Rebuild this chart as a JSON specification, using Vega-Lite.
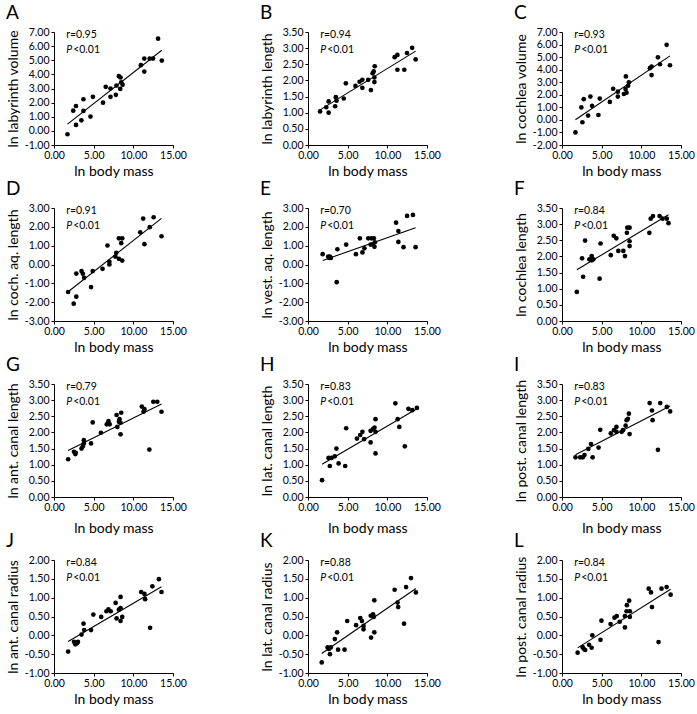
{
"$schema": "https://vega.github.io/schema/vega-lite/v6.json",
"background": "white",
"padding": {"left": 5, "top": 4, "right": 0, "bottom": 3},
"config": {
  "locale": {"number": {"decimal": ".", "thousands": ",", "grouping": [3], "currency": ["$", ""], "minus": "-"}},
  "view": {"stroke": null},
  "font": "Lato",
  "axis": {"domainColor": "black", "tickColor": "black", "tickSize": 3, "labelFont": "Lato", "labelFontSize": 10.5, "labelColor": "black", "titleFont": "Lato", "titleFontSize": 14, "titleFontWeight": "normal", "titleColor": "black", "grid": false, "labelPadding": 2, "labelOverlap": false, "labelFlush": false},
  "axisY": {"minExtent": 33, "maxExtent": 33, "titlePadding": 1},
  "axisX": {"titlePadding": 4},
  "title": {"anchor": "start", "frame": "bounds", "fontSize": 19, "fontWeight": "normal", "font": "Lato", "color": "black", "offset": 4},
  "text": {"font": "Lato", "color": "black"}
},
"datasets": {
"A": [{"x":1.70,"y":-0.24},{"x":2.43,"y":1.43},{"x":2.77,"y":1.76},{"x":2.77,"y":0.42},{"x":3.45,"y":0.75},{"x":3.71,"y":2.24},{"x":3.71,"y":1.41},{"x":4.60,"y":1.01},{"x":4.90,"y":2.41},{"x":6.18,"y":2.00},{"x":6.52,"y":3.12},{"x":7.12,"y":3.00},{"x":7.12,"y":2.41},{"x":7.80,"y":2.55},{"x":7.88,"y":3.21},{"x":8.18,"y":3.87},{"x":8.39,"y":3.78},{"x":8.35,"y":2.97},{"x":8.48,"y":3.44},{"x":8.65,"y":3.26},{"x":10.95,"y":4.65},{"x":11.38,"y":5.12},{"x":11.38,"y":4.20},{"x":12.06,"y":5.12},{"x":12.48,"y":5.12},{"x":13.12,"y":6.53},{"x":13.59,"y":4.98}],
"B": [{"x":1.52,"y":1.04},{"x":2.30,"y":1.17},{"x":2.60,"y":1.00},{"x":2.60,"y":1.35},{"x":3.42,"y":1.20},{"x":3.51,"y":1.48},{"x":3.60,"y":1.37},{"x":4.51,"y":1.44},{"x":4.77,"y":1.91},{"x":5.98,"y":1.83},{"x":6.50,"y":1.96},{"x":6.85,"y":2.02},{"x":6.85,"y":1.77},{"x":7.59,"y":2.02},{"x":7.93,"y":1.70},{"x":8.15,"y":2.22},{"x":8.28,"y":2.28},{"x":8.37,"y":2.09},{"x":8.37,"y":1.95},{"x":8.41,"y":2.44},{"x":10.92,"y":2.72},{"x":11.27,"y":2.79},{"x":11.27,"y":2.33},{"x":12.14,"y":2.33},{"x":12.48,"y":2.85},{"x":13.13,"y":3.01},{"x":13.57,"y":2.65}],
"C": [{"x":1.69,"y":-1.00},{"x":2.44,"y":0.99},{"x":2.57,"y":-0.19},{"x":2.74,"y":1.65},{"x":3.29,"y":0.34},{"x":3.58,"y":1.86},{"x":3.79,"y":1.12},{"x":4.59,"y":0.39},{"x":4.76,"y":1.70},{"x":6.03,"y":1.43},{"x":6.45,"y":2.48},{"x":7.04,"y":1.86},{"x":7.04,"y":2.25},{"x":7.80,"y":2.06},{"x":8.05,"y":3.46},{"x":8.01,"y":2.46},{"x":8.13,"y":2.17},{"x":8.34,"y":2.72},{"x":8.43,"y":2.99},{"x":11.08,"y":4.12},{"x":11.29,"y":4.25},{"x":11.29,"y":3.57},{"x":12.09,"y":4.98},{"x":12.35,"y":4.43},{"x":13.19,"y":5.98},{"x":13.61,"y":4.35}],
"D": [{"x":1.78,"y":-1.46},{"x":2.48,"y":-2.08},{"x":2.81,"y":-0.48},{"x":2.81,"y":-1.71},{"x":3.47,"y":-0.35},{"x":3.64,"y":-0.49},{"x":3.80,"y":-0.71},{"x":4.67,"y":-1.20},{"x":4.88,"y":-0.35},{"x":6.12,"y":-0.23},{"x":6.74,"y":1.01},{"x":6.98,"y":0.14},{"x":6.98,"y":0.00},{"x":7.73,"y":0.42},{"x":7.85,"y":0.62},{"x":8.18,"y":1.39},{"x":8.18,"y":0.30},{"x":8.47,"y":1.13},{"x":8.60,"y":1.39},{"x":8.60,"y":0.21},{"x":10.87,"y":1.71},{"x":11.24,"y":2.44},{"x":11.40,"y":1.08},{"x":12.07,"y":1.98},{"x":12.56,"y":2.51},{"x":13.55,"y":1.50}],
"E": [{"x":1.85,"y":0.55},{"x":2.55,"y":0.42},{"x":2.67,"y":0.35},{"x":2.75,"y":0.42},{"x":2.88,"y":0.35},{"x":3.62,"y":-0.94},{"x":3.70,"y":0.81},{"x":4.81,"y":1.06},{"x":6.04,"y":0.55},{"x":6.54,"y":1.39},{"x":6.86,"y":0.64},{"x":7.11,"y":0.86},{"x":7.60,"y":1.39},{"x":7.89,"y":1.06},{"x":8.01,"y":1.39},{"x":8.18,"y":1.06},{"x":8.30,"y":1.39},{"x":8.38,"y":0.94},{"x":8.43,"y":1.18},{"x":11.10,"y":2.22},{"x":11.39,"y":1.78},{"x":11.39,"y":1.20},{"x":12.04,"y":0.92},{"x":12.49,"y":2.58},{"x":13.23,"y":2.63},{"x":13.56,"y":0.92}],
"F": [{"x":1.87,"y":0.90},{"x":2.53,"y":1.94},{"x":2.66,"y":1.37},{"x":2.91,"y":2.49},{"x":3.45,"y":1.91},{"x":3.74,"y":2.01},{"x":3.74,"y":1.88},{"x":3.95,"y":1.91},{"x":4.74,"y":1.31},{"x":4.86,"y":2.40},{"x":6.15,"y":2.04},{"x":6.52,"y":2.64},{"x":6.85,"y":2.56},{"x":7.10,"y":2.17},{"x":7.73,"y":2.17},{"x":7.94,"y":2.01},{"x":8.18,"y":2.73},{"x":8.23,"y":2.89},{"x":8.52,"y":2.89},{"x":8.52,"y":2.47},{"x":8.52,"y":2.32},{"x":11.01,"y":2.73},{"x":11.18,"y":3.17},{"x":11.47,"y":3.25},{"x":12.30,"y":3.25},{"x":12.67,"y":3.17},{"x":13.21,"y":3.17},{"x":13.42,"y":3.03}],
"G": [{"x":1.78,"y":1.17},{"x":2.52,"y":1.40},{"x":2.69,"y":1.33},{"x":2.73,"y":1.37},{"x":3.47,"y":1.50},{"x":3.64,"y":1.57},{"x":3.76,"y":1.76},{"x":3.76,"y":1.66},{"x":4.67,"y":1.66},{"x":4.88,"y":2.31},{"x":5.91,"y":1.99},{"x":6.65,"y":2.25},{"x":6.86,"y":2.35},{"x":7.02,"y":2.25},{"x":7.89,"y":2.54},{"x":7.98,"y":2.17},{"x":8.18,"y":2.33},{"x":8.26,"y":2.41},{"x":8.39,"y":1.94},{"x":8.47,"y":2.61},{"x":8.39,"y":2.30},{"x":11.07,"y":2.80},{"x":11.28,"y":2.64},{"x":11.40,"y":2.72},{"x":12.02,"y":1.47},{"x":12.52,"y":2.95},{"x":13.02,"y":2.95},{"x":13.55,"y":2.64}],
"H": [{"x":1.77,"y":0.52},{"x":2.59,"y":1.21},{"x":2.75,"y":0.96},{"x":2.96,"y":1.21},{"x":3.37,"y":1.26},{"x":3.58,"y":1.50},{"x":3.86,"y":1.04},{"x":4.69,"y":0.96},{"x":4.81,"y":2.13},{"x":6.17,"y":1.81},{"x":6.58,"y":1.92},{"x":6.86,"y":2.02},{"x":7.07,"y":1.79},{"x":7.89,"y":1.69},{"x":7.89,"y":2.05},{"x":8.18,"y":2.10},{"x":8.38,"y":2.15},{"x":8.51,"y":2.02},{"x":8.51,"y":2.41},{"x":8.51,"y":1.35},{"x":11.01,"y":2.90},{"x":11.30,"y":2.41},{"x":11.51,"y":2.17},{"x":12.21,"y":1.57},{"x":12.66,"y":2.73},{"x":13.15,"y":2.69},{"x":13.73,"y":2.76}],
"I": [{"x":1.70,"y":1.23},{"x":2.29,"y":1.23},{"x":2.62,"y":1.23},{"x":2.83,"y":1.30},{"x":3.32,"y":1.49},{"x":3.66,"y":1.64},{"x":3.86,"y":1.23},{"x":4.61,"y":1.53},{"x":4.82,"y":2.08},{"x":6.15,"y":1.97},{"x":6.56,"y":2.07},{"x":6.86,"y":2.17},{"x":6.86,"y":2.02},{"x":7.52,"y":2.02},{"x":7.69,"y":2.07},{"x":8.02,"y":2.21},{"x":8.14,"y":2.38},{"x":8.31,"y":2.42},{"x":8.43,"y":2.58},{"x":8.52,"y":1.95},{"x":11.05,"y":2.91},{"x":11.34,"y":2.68},{"x":11.42,"y":2.38},{"x":12.09,"y":1.46},{"x":12.38,"y":2.91},{"x":13.21,"y":2.79},{"x":13.63,"y":2.65}],
"J": [{"x":1.78,"y":-0.43},{"x":2.52,"y":-0.17},{"x":2.69,"y":-0.24},{"x":2.89,"y":-0.21},{"x":3.02,"y":-0.17},{"x":3.47,"y":0.02},{"x":3.72,"y":0.31},{"x":3.80,"y":0.14},{"x":4.67,"y":0.14},{"x":4.96,"y":0.55},{"x":5.95,"y":0.49},{"x":6.61,"y":0.64},{"x":6.86,"y":0.69},{"x":7.15,"y":0.64},{"x":7.77,"y":0.86},{"x":7.89,"y":0.45},{"x":8.18,"y":0.68},{"x":8.39,"y":0.72},{"x":8.39,"y":1.02},{"x":8.39,"y":0.38},{"x":8.60,"y":0.49},{"x":10.99,"y":1.15},{"x":11.40,"y":1.10},{"x":11.49,"y":0.96},{"x":12.11,"y":0.20},{"x":12.40,"y":1.30},{"x":13.22,"y":1.49},{"x":13.55,"y":1.15}],
"K": [{"x":1.73,"y":-0.72},{"x":2.47,"y":-0.32},{"x":2.64,"y":-0.36},{"x":2.76,"y":-0.50},{"x":2.88,"y":-0.32},{"x":3.38,"y":-0.10},{"x":3.67,"y":0.08},{"x":3.79,"y":-0.38},{"x":4.61,"y":-0.38},{"x":4.94,"y":0.38},{"x":6.06,"y":0.27},{"x":6.59,"y":0.46},{"x":6.80,"y":0.38},{"x":7.00,"y":0.25},{"x":7.00,"y":0.16},{"x":7.91,"y":0.52},{"x":7.95,"y":-0.06},{"x":8.20,"y":0.56},{"x":8.28,"y":0.49},{"x":8.36,"y":0.93},{"x":8.36,"y":0.08},{"x":10.92,"y":1.21},{"x":11.29,"y":0.87},{"x":11.37,"y":0.75},{"x":12.11,"y":0.31},{"x":12.36,"y":1.28},{"x":12.98,"y":1.52},{"x":13.60,"y":1.14}],
"L": [{"x":1.97,"y":-0.46},{"x":2.59,"y":-0.31},{"x":2.71,"y":-0.35},{"x":2.92,"y":-0.39},{"x":3.41,"y":-0.25},{"x":3.74,"y":-0.33},{"x":3.82,"y":0.00},{"x":4.85,"y":-0.12},{"x":4.97,"y":0.39},{"x":6.12,"y":0.30},{"x":6.62,"y":0.47},{"x":6.90,"y":0.51},{"x":7.27,"y":0.36},{"x":7.93,"y":0.21},{"x":7.93,"y":0.51},{"x":8.18,"y":0.80},{"x":8.14,"y":0.64},{"x":8.47,"y":0.92},{"x":8.55,"y":0.64},{"x":8.55,"y":0.49},{"x":10.93,"y":1.24},{"x":11.22,"y":1.14},{"x":11.34,"y":0.75},{"x":12.17,"y":-0.18},{"x":12.54,"y":1.24},{"x":13.19,"y":1.28},{"x":13.69,"y":1.08}]
},
"columns": 3,
"bounds": "flush",
"spacing": {"row": 63, "column": 135},
"concat": [
{"title": "A", "width": 119, "height": 113, "data": {"name": "A"}, "layer": [
 {"mark": {"type": "circle", "size": 22, "color": "black", "opacity": 1}, "encoding": {"x": {"field": "x", "type": "quantitative", "scale": {"domain": [0, 15], "nice": false}, "axis": {"values": [0, 5, 10, 15], "tickCount": 20, "format": ".2f", "labelOverlap": false, "title": "ln body mass"}}, "y": {"field": "y", "type": "quantitative", "scale": {"domain": [-1, 7], "nice": false, "zero": false}, "axis": {"values": [-1, 0, 1, 2, 3, 4, 5, 6, 7], "tickCount": 20, "format": ".2f", "labelOverlap": false, "title": "ln labyrinth volume"}}}},
 {"transform": [{"regression": "y", "on": "x"}], "mark": {"type": "line", "color": "black", "strokeWidth": 1.1}, "encoding": {"x": {"field": "x", "type": "quantitative"}, "y": {"field": "y", "type": "quantitative"}}},
 {"data": {"values": [{}]}, "mark": {"type": "text", "align": "left", "baseline": "alphabetic", "fontSize": 10.5}, "encoding": {"x": {"datum": 1.53}, "y": {"datum": 6.58}, "text": {"value": "r=0.95"}}},
 {"data": {"values": [{}]}, "mark": {"type": "text", "align": "left", "baseline": "alphabetic", "fontSize": 10.5, "fontStyle": "italic"}, "encoding": {"x": {"datum": 1.53}, "y": {"datum": 5.51}, "text": {"value": "P"}}},
 {"data": {"values": [{}]}, "mark": {"type": "text", "align": "left", "baseline": "alphabetic", "fontSize": 10.5, "dx": 7}, "encoding": {"x": {"datum": 1.53}, "y": {"datum": 5.51}, "text": {"value": "<0.01"}}}
]},
{"title": "B", "width": 119, "height": 113, "data": {"name": "B"}, "layer": [
 {"mark": {"type": "circle", "size": 22, "color": "black", "opacity": 1}, "encoding": {"x": {"field": "x", "type": "quantitative", "scale": {"domain": [0, 15], "nice": false}, "axis": {"values": [0, 5, 10, 15], "tickCount": 20, "format": ".2f", "labelOverlap": false, "title": "ln body mass"}}, "y": {"field": "y", "type": "quantitative", "scale": {"domain": [0, 3.5], "nice": false, "zero": false}, "axis": {"values": [0, 0.5, 1, 1.5, 2, 2.5, 3, 3.5], "tickCount": 20, "format": ".2f", "labelOverlap": false, "title": "ln labyrinth length"}}}},
 {"transform": [{"regression": "y", "on": "x"}], "mark": {"type": "line", "color": "black", "strokeWidth": 1.1}, "encoding": {"x": {"field": "x", "type": "quantitative"}, "y": {"field": "y", "type": "quantitative"}}},
 {"data": {"values": [{}]}, "mark": {"type": "text", "align": "left", "baseline": "alphabetic", "fontSize": 10.5}, "encoding": {"x": {"datum": 1.53}, "y": {"datum": 3.31}, "text": {"value": "r=0.94"}}},
 {"data": {"values": [{}]}, "mark": {"type": "text", "align": "left", "baseline": "alphabetic", "fontSize": 10.5, "fontStyle": "italic"}, "encoding": {"x": {"datum": 1.53}, "y": {"datum": 2.85}, "text": {"value": "P"}}},
 {"data": {"values": [{}]}, "mark": {"type": "text", "align": "left", "baseline": "alphabetic", "fontSize": 10.5, "dx": 7}, "encoding": {"x": {"datum": 1.53}, "y": {"datum": 2.85}, "text": {"value": "<0.01"}}}
]},
{"title": "C", "width": 119, "height": 113, "data": {"name": "C"}, "layer": [
 {"mark": {"type": "circle", "size": 22, "color": "black", "opacity": 1}, "encoding": {"x": {"field": "x", "type": "quantitative", "scale": {"domain": [0, 15], "nice": false}, "axis": {"values": [0, 5, 10, 15], "tickCount": 20, "format": ".2f", "labelOverlap": false, "title": "ln body mass"}}, "y": {"field": "y", "type": "quantitative", "scale": {"domain": [-2, 7], "nice": false, "zero": false}, "axis": {"values": [-2, -1, 0, 1, 2, 3, 4, 5, 6, 7], "tickCount": 20, "format": ".2f", "labelOverlap": false, "title": "ln cochlea volume"}}}},
 {"transform": [{"regression": "y", "on": "x"}], "mark": {"type": "line", "color": "black", "strokeWidth": 1.1}, "encoding": {"x": {"field": "x", "type": "quantitative"}, "y": {"field": "y", "type": "quantitative"}}},
 {"data": {"values": [{}]}, "mark": {"type": "text", "align": "left", "baseline": "alphabetic", "fontSize": 10.5}, "encoding": {"x": {"datum": 1.53}, "y": {"datum": 6.52}, "text": {"value": "r=0.93"}}},
 {"data": {"values": [{}]}, "mark": {"type": "text", "align": "left", "baseline": "alphabetic", "fontSize": 10.5, "fontStyle": "italic"}, "encoding": {"x": {"datum": 1.53}, "y": {"datum": 5.33}, "text": {"value": "P"}}},
 {"data": {"values": [{}]}, "mark": {"type": "text", "align": "left", "baseline": "alphabetic", "fontSize": 10.5, "dx": 7}, "encoding": {"x": {"datum": 1.53}, "y": {"datum": 5.33}, "text": {"value": "<0.01"}}}
]},
{"title": "D", "width": 119, "height": 113, "data": {"name": "D"}, "layer": [
 {"mark": {"type": "circle", "size": 22, "color": "black", "opacity": 1}, "encoding": {"x": {"field": "x", "type": "quantitative", "scale": {"domain": [0, 15], "nice": false}, "axis": {"values": [0, 5, 10, 15], "tickCount": 20, "format": ".2f", "labelOverlap": false, "title": "ln body mass"}}, "y": {"field": "y", "type": "quantitative", "scale": {"domain": [-3, 3], "nice": false, "zero": false}, "axis": {"values": [-3, -2, -1, 0, 1, 2, 3], "tickCount": 20, "format": ".2f", "labelOverlap": false, "title": "ln coch. aq. length"}}}},
 {"transform": [{"regression": "y", "on": "x"}], "mark": {"type": "line", "color": "black", "strokeWidth": 1.1}, "encoding": {"x": {"field": "x", "type": "quantitative"}, "y": {"field": "y", "type": "quantitative"}}},
 {"data": {"values": [{}]}, "mark": {"type": "text", "align": "left", "baseline": "alphabetic", "fontSize": 10.5}, "encoding": {"x": {"datum": 1.53}, "y": {"datum": 2.68}, "text": {"value": "r=0.91"}}},
 {"data": {"values": [{}]}, "mark": {"type": "text", "align": "left", "baseline": "alphabetic", "fontSize": 10.5, "fontStyle": "italic"}, "encoding": {"x": {"datum": 1.53}, "y": {"datum": 1.88}, "text": {"value": "P"}}},
 {"data": {"values": [{}]}, "mark": {"type": "text", "align": "left", "baseline": "alphabetic", "fontSize": 10.5, "dx": 7}, "encoding": {"x": {"datum": 1.53}, "y": {"datum": 1.88}, "text": {"value": "<0.01"}}}
]},
{"title": "E", "width": 119, "height": 113, "data": {"name": "E"}, "layer": [
 {"mark": {"type": "circle", "size": 22, "color": "black", "opacity": 1}, "encoding": {"x": {"field": "x", "type": "quantitative", "scale": {"domain": [0, 15], "nice": false}, "axis": {"values": [0, 5, 10, 15], "tickCount": 20, "format": ".2f", "labelOverlap": false, "title": "ln body mass"}}, "y": {"field": "y", "type": "quantitative", "scale": {"domain": [-3, 3], "nice": false, "zero": false}, "axis": {"values": [-3, -2, -1, 0, 1, 2, 3], "tickCount": 20, "format": ".2f", "labelOverlap": false, "title": "ln vest. aq. length"}}}},
 {"transform": [{"regression": "y", "on": "x"}], "mark": {"type": "line", "color": "black", "strokeWidth": 1.1}, "encoding": {"x": {"field": "x", "type": "quantitative"}, "y": {"field": "y", "type": "quantitative"}}},
 {"data": {"values": [{}]}, "mark": {"type": "text", "align": "left", "baseline": "alphabetic", "fontSize": 10.5}, "encoding": {"x": {"datum": 1.53}, "y": {"datum": 2.68}, "text": {"value": "r=0.70"}}},
 {"data": {"values": [{}]}, "mark": {"type": "text", "align": "left", "baseline": "alphabetic", "fontSize": 10.5, "fontStyle": "italic"}, "encoding": {"x": {"datum": 1.53}, "y": {"datum": 1.88}, "text": {"value": "P"}}},
 {"data": {"values": [{}]}, "mark": {"type": "text", "align": "left", "baseline": "alphabetic", "fontSize": 10.5, "dx": 7}, "encoding": {"x": {"datum": 1.53}, "y": {"datum": 1.88}, "text": {"value": "<0.01"}}}
]},
{"title": "F", "width": 119, "height": 113, "data": {"name": "F"}, "layer": [
 {"mark": {"type": "circle", "size": 22, "color": "black", "opacity": 1}, "encoding": {"x": {"field": "x", "type": "quantitative", "scale": {"domain": [0, 15], "nice": false}, "axis": {"values": [0, 5, 10, 15], "tickCount": 20, "format": ".2f", "labelOverlap": false, "title": "ln body mass"}}, "y": {"field": "y", "type": "quantitative", "scale": {"domain": [0, 3.5], "nice": false, "zero": false}, "axis": {"values": [0, 0.5, 1, 1.5, 2, 2.5, 3, 3.5], "tickCount": 20, "format": ".2f", "labelOverlap": false, "title": "ln cochlea length"}}}},
 {"transform": [{"regression": "y", "on": "x"}], "mark": {"type": "line", "color": "black", "strokeWidth": 1.1}, "encoding": {"x": {"field": "x", "type": "quantitative"}, "y": {"field": "y", "type": "quantitative"}}},
 {"data": {"values": [{}]}, "mark": {"type": "text", "align": "left", "baseline": "alphabetic", "fontSize": 10.5}, "encoding": {"x": {"datum": 1.53}, "y": {"datum": 3.31}, "text": {"value": "r=0.84"}}},
 {"data": {"values": [{}]}, "mark": {"type": "text", "align": "left", "baseline": "alphabetic", "fontSize": 10.5, "fontStyle": "italic"}, "encoding": {"x": {"datum": 1.53}, "y": {"datum": 2.85}, "text": {"value": "P"}}},
 {"data": {"values": [{}]}, "mark": {"type": "text", "align": "left", "baseline": "alphabetic", "fontSize": 10.5, "dx": 7}, "encoding": {"x": {"datum": 1.53}, "y": {"datum": 2.85}, "text": {"value": "<0.01"}}}
]},
{"title": "G", "width": 119, "height": 113, "data": {"name": "G"}, "layer": [
 {"mark": {"type": "circle", "size": 22, "color": "black", "opacity": 1}, "encoding": {"x": {"field": "x", "type": "quantitative", "scale": {"domain": [0, 15], "nice": false}, "axis": {"values": [0, 5, 10, 15], "tickCount": 20, "format": ".2f", "labelOverlap": false, "title": "ln body mass", "titlePadding": 9}}, "y": {"field": "y", "type": "quantitative", "scale": {"domain": [0, 3.5], "nice": false, "zero": false}, "axis": {"values": [0, 0.5, 1, 1.5, 2, 2.5, 3, 3.5], "tickCount": 20, "format": ".2f", "labelOverlap": false, "title": "ln ant. canal length"}}}},
 {"transform": [{"regression": "y", "on": "x"}], "mark": {"type": "line", "color": "black", "strokeWidth": 1.1}, "encoding": {"x": {"field": "x", "type": "quantitative"}, "y": {"field": "y", "type": "quantitative"}}},
 {"data": {"values": [{}]}, "mark": {"type": "text", "align": "left", "baseline": "alphabetic", "fontSize": 10.5}, "encoding": {"x": {"datum": 1.53}, "y": {"datum": 3.31}, "text": {"value": "r=0.79"}}},
 {"data": {"values": [{}]}, "mark": {"type": "text", "align": "left", "baseline": "alphabetic", "fontSize": 10.5, "fontStyle": "italic"}, "encoding": {"x": {"datum": 1.53}, "y": {"datum": 2.85}, "text": {"value": "P"}}},
 {"data": {"values": [{}]}, "mark": {"type": "text", "align": "left", "baseline": "alphabetic", "fontSize": 10.5, "dx": 7}, "encoding": {"x": {"datum": 1.53}, "y": {"datum": 2.85}, "text": {"value": "<0.01"}}}
]},
{"title": "H", "width": 119, "height": 113, "data": {"name": "H"}, "layer": [
 {"mark": {"type": "circle", "size": 22, "color": "black", "opacity": 1}, "encoding": {"x": {"field": "x", "type": "quantitative", "scale": {"domain": [0, 15], "nice": false}, "axis": {"values": [0, 5, 10, 15], "tickCount": 20, "format": ".2f", "labelOverlap": false, "title": "ln body mass", "titlePadding": 9}}, "y": {"field": "y", "type": "quantitative", "scale": {"domain": [0, 3.5], "nice": false, "zero": false}, "axis": {"values": [0, 0.5, 1, 1.5, 2, 2.5, 3, 3.5], "tickCount": 20, "format": ".2f", "labelOverlap": false, "title": "ln lat. canal length"}}}},
 {"transform": [{"regression": "y", "on": "x"}], "mark": {"type": "line", "color": "black", "strokeWidth": 1.1}, "encoding": {"x": {"field": "x", "type": "quantitative"}, "y": {"field": "y", "type": "quantitative"}}},
 {"data": {"values": [{}]}, "mark": {"type": "text", "align": "left", "baseline": "alphabetic", "fontSize": 10.5}, "encoding": {"x": {"datum": 1.53}, "y": {"datum": 3.31}, "text": {"value": "r=0.83"}}},
 {"data": {"values": [{}]}, "mark": {"type": "text", "align": "left", "baseline": "alphabetic", "fontSize": 10.5, "fontStyle": "italic"}, "encoding": {"x": {"datum": 1.53}, "y": {"datum": 2.85}, "text": {"value": "P"}}},
 {"data": {"values": [{}]}, "mark": {"type": "text", "align": "left", "baseline": "alphabetic", "fontSize": 10.5, "dx": 7}, "encoding": {"x": {"datum": 1.53}, "y": {"datum": 2.85}, "text": {"value": "<0.01"}}}
]},
{"title": "I", "width": 119, "height": 113, "data": {"name": "I"}, "layer": [
 {"mark": {"type": "circle", "size": 22, "color": "black", "opacity": 1}, "encoding": {"x": {"field": "x", "type": "quantitative", "scale": {"domain": [0, 15], "nice": false}, "axis": {"values": [0, 5, 10, 15], "tickCount": 20, "format": ".2f", "labelOverlap": false, "title": "ln body mass", "titlePadding": 9}}, "y": {"field": "y", "type": "quantitative", "scale": {"domain": [0, 3.5], "nice": false, "zero": false}, "axis": {"values": [0, 0.5, 1, 1.5, 2, 2.5, 3, 3.5], "tickCount": 20, "format": ".2f", "labelOverlap": false, "title": "ln post. canal length"}}}},
 {"transform": [{"regression": "y", "on": "x"}], "mark": {"type": "line", "color": "black", "strokeWidth": 1.1}, "encoding": {"x": {"field": "x", "type": "quantitative"}, "y": {"field": "y", "type": "quantitative"}}},
 {"data": {"values": [{}]}, "mark": {"type": "text", "align": "left", "baseline": "alphabetic", "fontSize": 10.5}, "encoding": {"x": {"datum": 1.53}, "y": {"datum": 3.31}, "text": {"value": "r=0.83"}}},
 {"data": {"values": [{}]}, "mark": {"type": "text", "align": "left", "baseline": "alphabetic", "fontSize": 10.5, "fontStyle": "italic"}, "encoding": {"x": {"datum": 1.53}, "y": {"datum": 2.85}, "text": {"value": "P"}}},
 {"data": {"values": [{}]}, "mark": {"type": "text", "align": "left", "baseline": "alphabetic", "fontSize": 10.5, "dx": 7}, "encoding": {"x": {"datum": 1.53}, "y": {"datum": 2.85}, "text": {"value": "<0.01"}}}
]},
{"title": "J", "width": 119, "height": 113, "data": {"name": "J"}, "layer": [
 {"mark": {"type": "circle", "size": 22, "color": "black", "opacity": 1}, "encoding": {"x": {"field": "x", "type": "quantitative", "scale": {"domain": [0, 15], "nice": false}, "axis": {"values": [0, 5, 10, 15], "tickCount": 20, "format": ".2f", "labelOverlap": false, "title": "ln body mass"}}, "y": {"field": "y", "type": "quantitative", "scale": {"domain": [-1, 2], "nice": false, "zero": false}, "axis": {"values": [-1, -0.5, 0, 0.5, 1, 1.5, 2], "tickCount": 20, "format": ".2f", "labelOverlap": false, "title": "ln ant. canal radius"}}}},
 {"transform": [{"regression": "y", "on": "x"}], "mark": {"type": "line", "color": "black", "strokeWidth": 1.1}, "encoding": {"x": {"field": "x", "type": "quantitative"}, "y": {"field": "y", "type": "quantitative"}}},
 {"data": {"values": [{}]}, "mark": {"type": "text", "align": "left", "baseline": "alphabetic", "fontSize": 10.5}, "encoding": {"x": {"datum": 1.53}, "y": {"datum": 1.84}, "text": {"value": "r=0.84"}}},
 {"data": {"values": [{}]}, "mark": {"type": "text", "align": "left", "baseline": "alphabetic", "fontSize": 10.5, "fontStyle": "italic"}, "encoding": {"x": {"datum": 1.53}, "y": {"datum": 1.44}, "text": {"value": "P"}}},
 {"data": {"values": [{}]}, "mark": {"type": "text", "align": "left", "baseline": "alphabetic", "fontSize": 10.5, "dx": 7}, "encoding": {"x": {"datum": 1.53}, "y": {"datum": 1.44}, "text": {"value": "<0.01"}}}
]},
{"title": "K", "width": 119, "height": 113, "data": {"name": "K"}, "layer": [
 {"mark": {"type": "circle", "size": 22, "color": "black", "opacity": 1}, "encoding": {"x": {"field": "x", "type": "quantitative", "scale": {"domain": [0, 15], "nice": false}, "axis": {"values": [0, 5, 10, 15], "tickCount": 20, "format": ".2f", "labelOverlap": false, "title": "ln body mass"}}, "y": {"field": "y", "type": "quantitative", "scale": {"domain": [-1, 2], "nice": false, "zero": false}, "axis": {"values": [-1, -0.5, 0, 0.5, 1, 1.5, 2], "tickCount": 20, "format": ".2f", "labelOverlap": false, "title": "ln lat. canal radius"}}}},
 {"transform": [{"regression": "y", "on": "x"}], "mark": {"type": "line", "color": "black", "strokeWidth": 1.1}, "encoding": {"x": {"field": "x", "type": "quantitative"}, "y": {"field": "y", "type": "quantitative"}}},
 {"data": {"values": [{}]}, "mark": {"type": "text", "align": "left", "baseline": "alphabetic", "fontSize": 10.5}, "encoding": {"x": {"datum": 1.53}, "y": {"datum": 1.84}, "text": {"value": "r=0.88"}}},
 {"data": {"values": [{}]}, "mark": {"type": "text", "align": "left", "baseline": "alphabetic", "fontSize": 10.5, "fontStyle": "italic"}, "encoding": {"x": {"datum": 1.53}, "y": {"datum": 1.44}, "text": {"value": "P"}}},
 {"data": {"values": [{}]}, "mark": {"type": "text", "align": "left", "baseline": "alphabetic", "fontSize": 10.5, "dx": 7}, "encoding": {"x": {"datum": 1.53}, "y": {"datum": 1.44}, "text": {"value": "<0.01"}}}
]},
{"title": "L", "width": 119, "height": 113, "data": {"name": "L"}, "layer": [
 {"mark": {"type": "circle", "size": 22, "color": "black", "opacity": 1}, "encoding": {"x": {"field": "x", "type": "quantitative", "scale": {"domain": [0, 15], "nice": false}, "axis": {"values": [0, 5, 10, 15], "tickCount": 20, "format": ".2f", "labelOverlap": false, "title": "ln body mass"}}, "y": {"field": "y", "type": "quantitative", "scale": {"domain": [-1, 2], "nice": false, "zero": false}, "axis": {"values": [-1, -0.5, 0, 0.5, 1, 1.5, 2], "tickCount": 20, "format": ".2f", "labelOverlap": false, "title": "ln post. canal radius"}}}},
 {"transform": [{"regression": "y", "on": "x"}], "mark": {"type": "line", "color": "black", "strokeWidth": 1.1}, "encoding": {"x": {"field": "x", "type": "quantitative"}, "y": {"field": "y", "type": "quantitative"}}},
 {"data": {"values": [{}]}, "mark": {"type": "text", "align": "left", "baseline": "alphabetic", "fontSize": 10.5}, "encoding": {"x": {"datum": 1.53}, "y": {"datum": 1.84}, "text": {"value": "r=0.84"}}},
 {"data": {"values": [{}]}, "mark": {"type": "text", "align": "left", "baseline": "alphabetic", "fontSize": 10.5, "fontStyle": "italic"}, "encoding": {"x": {"datum": 1.53}, "y": {"datum": 1.44}, "text": {"value": "P"}}},
 {"data": {"values": [{}]}, "mark": {"type": "text", "align": "left", "baseline": "alphabetic", "fontSize": 10.5, "dx": 7}, "encoding": {"x": {"datum": 1.53}, "y": {"datum": 1.44}, "text": {"value": "<0.01"}}}
]}
]
}
